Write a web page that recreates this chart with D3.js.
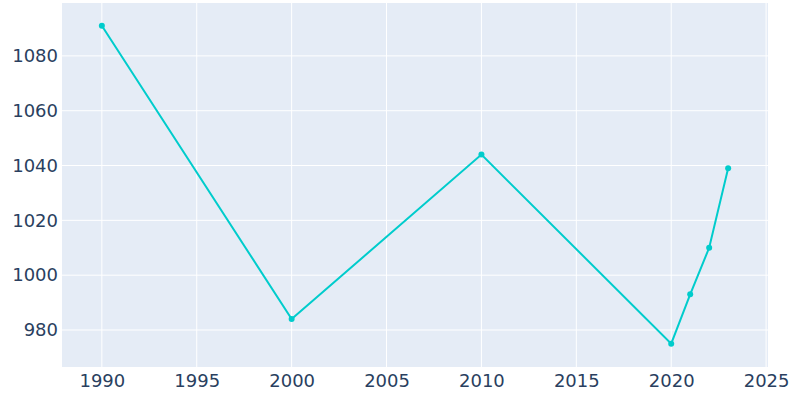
<!DOCTYPE html>
<html>
<head>
<meta charset="utf-8">
<script src="https://cdn.jsdelivr.net/npm/d3@7"></script>
<style>
body { margin: 0; background: #fff; }
text { font-family: "DejaVu Sans", sans-serif; }
</style>
</head>
<body>
<div id="chart"></div>
<script>
var years = [1990, 2000, 2010, 2020, 2021, 2022, 2023];
var population = [1091, 984, 1044, 975, 993, 1010, 1039];
var xTicks = [1990, 1995, 2000, 2005, 2010, 2015, 2020, 2025];
var yTicks = [980, 1000, 1020, 1040, 1060, 1080];

(function() {
	var width = 800, height = 400;
	var pLeft = 62, pRight = 768, pTop = 3, pBottom = 367;

	var svg = d3.select("#chart").append("svg")
		.attr("width", width)
		.attr("height", height);

	var x = d3.scaleLinear().domain([1987.9, 2025.1]).range([pLeft, pRight]);
	var y = d3.scaleLinear().domain([966.5, 1099.3]).range([pBottom, pTop]);

	svg.append("rect")
		.attr("x", pLeft).attr("y", pTop)
		.attr("width", pRight - pLeft).attr("height", pBottom - pTop)
		.attr("fill", "#e5ecf6");

	// grid
	svg.append("g").selectAll("line").data(xTicks).enter().append("line")
		.attr("x1", d => x(d)).attr("x2", d => x(d))
		.attr("y1", pTop).attr("y2", pBottom)
		.attr("stroke", "#fff").attr("stroke-width", 1);
	svg.append("g").selectAll("line").data(yTicks).enter().append("line")
		.attr("x1", pLeft).attr("x2", pRight)
		.attr("y1", d => y(d)).attr("y2", d => y(d))
		.attr("stroke", "#fff").attr("stroke-width", 1);

	// axes
	var xAxis = svg.append("g")
		.attr("transform", "translate(0," + pBottom + ")")
		.call(d3.axisBottom(x).tickValues(xTicks).tickFormat(d3.format("d")).tickSize(0).tickPadding(7));
	var yAxis = svg.append("g")
		.attr("transform", "translate(" + pLeft + ",0)")
		.call(d3.axisLeft(y).tickValues(yTicks).tickFormat(d3.format("d")).tickSize(0).tickPadding(4));
	[xAxis, yAxis].forEach(function(a) {
		a.attr("font-size", 18).attr("font-family", "'DejaVu Sans', sans-serif");
		a.select(".domain").remove();
		a.selectAll("text").attr("fill", "#2a3f5f");
	});

	var data = years.map((d, i) => ({ year: d, value: population[i] }));

	var line = d3.line().x(d => x(d.year)).y(d => y(d.value));
	svg.append("path")
		.datum(data)
		.attr("d", line)
		.attr("fill", "none")
		.attr("stroke", "#00cccc")
		.attr("stroke-width", 2);

	svg.append("g").selectAll("circle").data(data).enter().append("circle")
		.attr("cx", d => x(d.year))
		.attr("cy", d => y(d.value))
		.attr("r", 3)
		.attr("fill", "#00cccc");
})();
</script>
</body>
</html>
